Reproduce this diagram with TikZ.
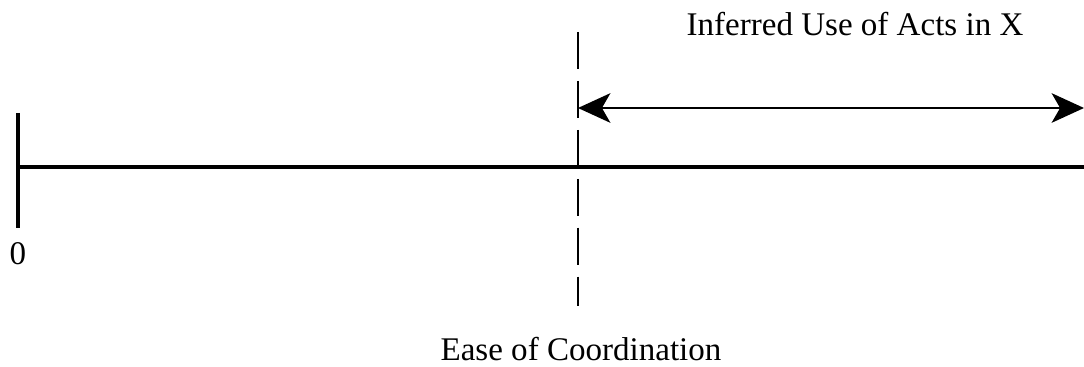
\documentclass[tikz,border=0pt]{standalone}
\usepackage{fontspec}
\setmainfont{Liberation Serif}
\usetikzlibrary{arrows.meta}

\begin{document}
\begin{tikzpicture}[
    x=0.025cm, y=-0.025cm,
    axis/.style={line width=3pt},
    tick/.style={line width=2.8pt},
    divider/.style={line width=1.9pt, dash pattern=on 26.3pt off 8.5pt},
    span/.style={{Stealth[length=23pt, width=21pt, inset=6pt]}-{Stealth[length=23pt, width=21pt, inset=6pt]}, line width=1.7pt},
    lbl/.style={font=\fontsize{23.5}{26}\selectfont, inner sep=0pt, anchor=base}
]
\useasboundingbox (0,0) rectangle (1084,367);

\coordinate (origin) at (18,167);
\coordinate (axisend) at (1084,167);
\coordinate (ticktop) at (18,113);
\coordinate (tickbot) at (18,228);
\coordinate (divtop) at (578,32);
\coordinate (divbot) at (578,306);
\coordinate (spanl) at (578,108);
\coordinate (spanr) at (1084,108);

\draw[axis] (origin) -- (axisend);
\draw[tick] (ticktop) -- (tickbot);
\draw[divider] (divtop) -- (divbot);
\draw[span] (spanl) -- (spanr);

\node[lbl] (zero) at (18,264) {0};
\node[lbl] (ease) at (581,360) {Ease of Coordination};
\node[lbl] (inferred) at (855,36) {Inferred Use of Acts in X};
\end{tikzpicture}
\end{document}
